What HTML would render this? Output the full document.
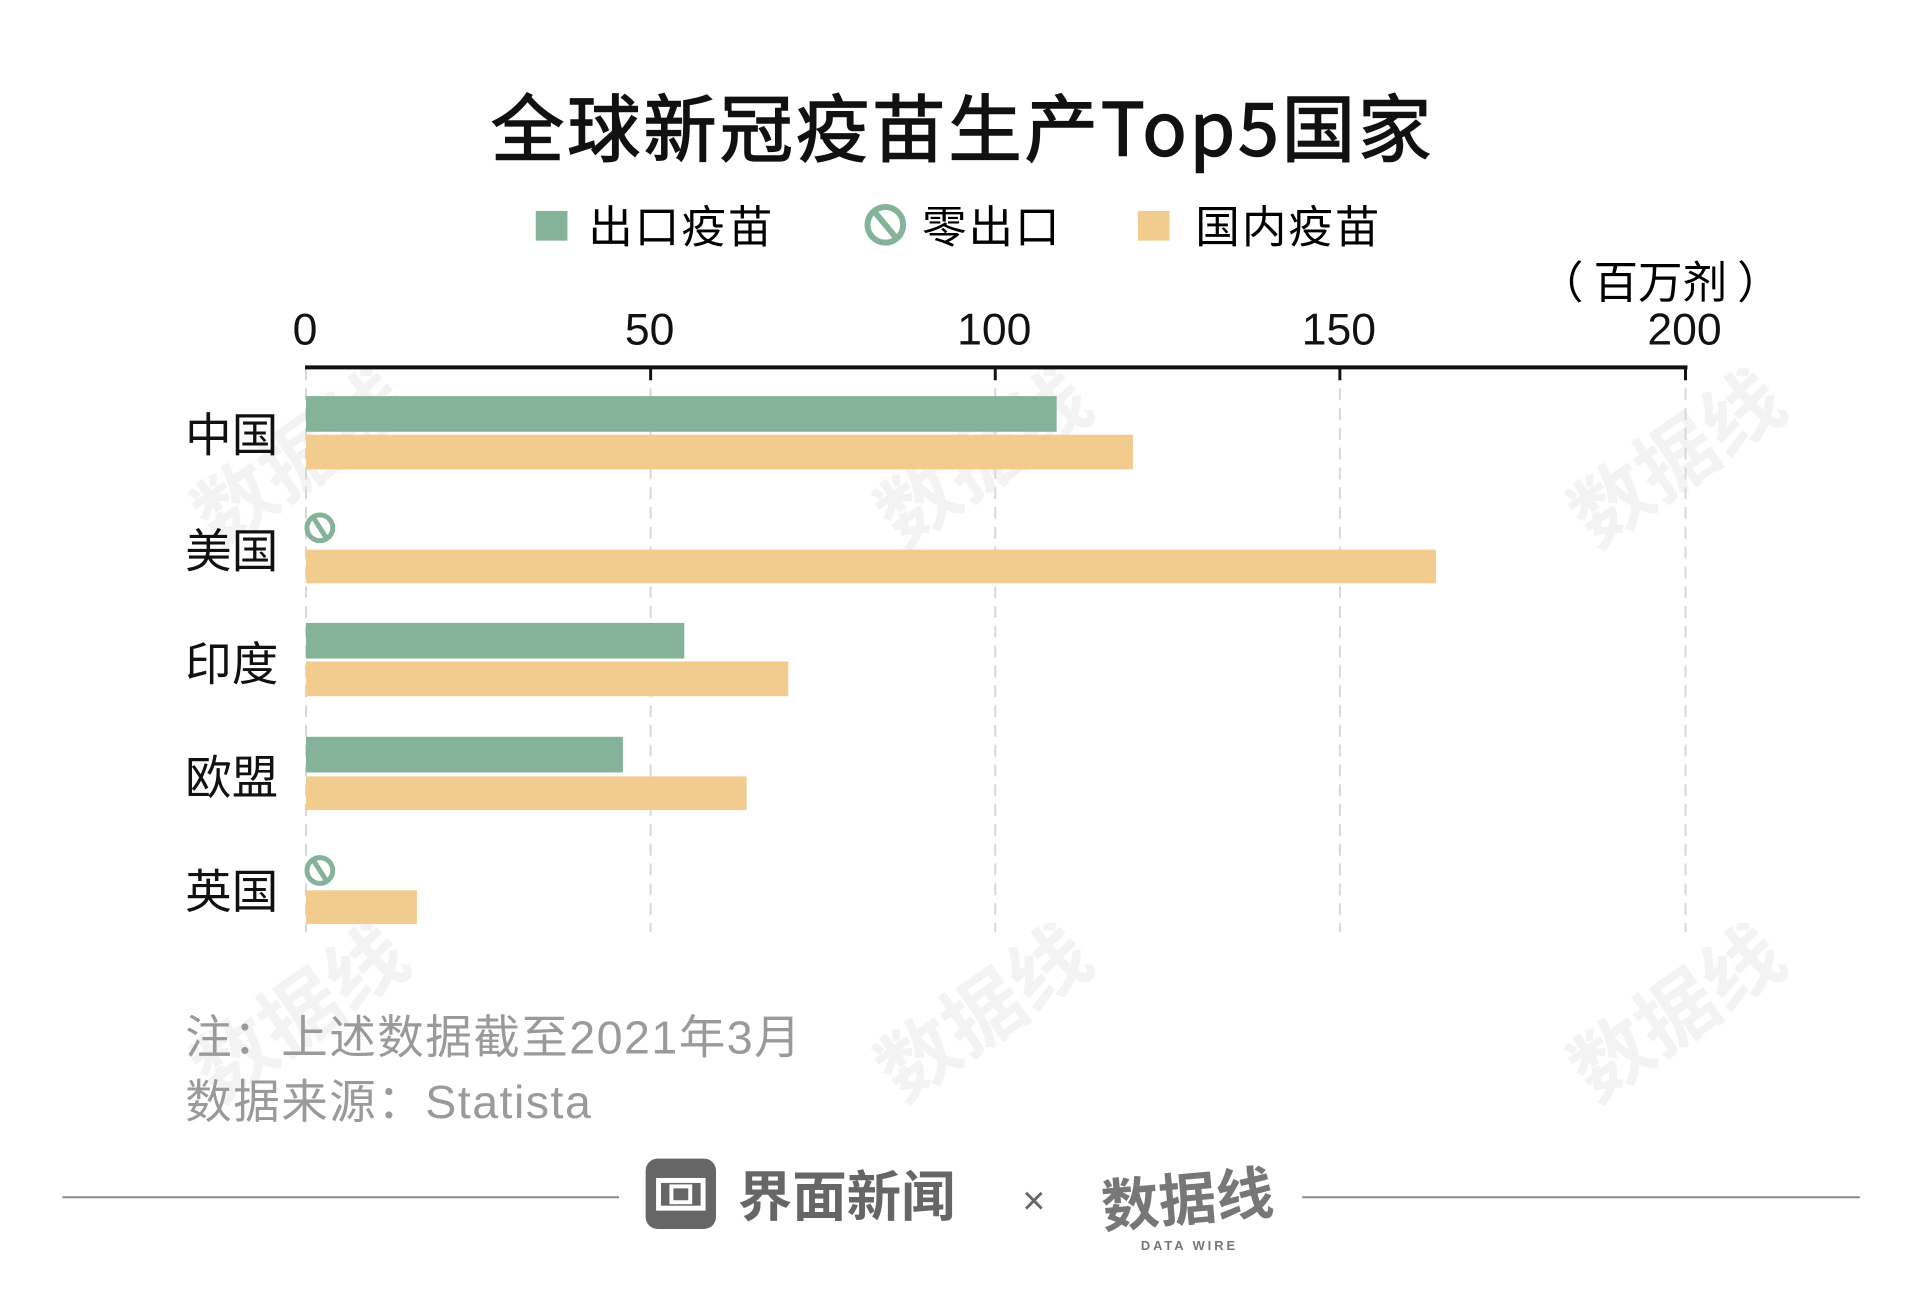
<!DOCTYPE html>
<html><head><meta charset="utf-8"><style>
body{margin:0;width:1921px;height:1299px;background:#fff;position:relative;overflow:hidden;font-family:"Liberation Sans","Noto Sans CJK SC",sans-serif;}
#w{position:absolute;left:0;top:0;width:1940px;height:1312px;transform:scale(0.9903);transform-origin:0 0;}
.a{position:absolute;white-space:nowrap;}
.wm{position:absolute;color:#f3f3f3;font-weight:bold;font-size:80px;transform:rotate(-35deg);font-family:"Noto Sans CJK SC",sans-serif;}
</style></head><body><div id="w">
<div class="wm" style="left:180px;top:400px">数据线</div>
<div class="wm" style="left:870px;top:400px">数据线</div>
<div class="wm" style="left:1570px;top:400px">数据线</div>
<div class="wm" style="left:180px;top:960px">数据线</div>
<div class="wm" style="left:870px;top:960px">数据线</div>
<div class="wm" style="left:1570px;top:960px">数据线</div>

<div class="a" style="left:0;width:1944px;text-align:center;top:72px;font-size:74px;font-weight:400;letter-spacing:3px;-webkit-text-stroke:1.5px #111;color:#111;font-family:'Noto Sans CJK SC',sans-serif;">全球新冠疫苗生产Top5国家</div>

<div class="a" style="left:541px;top:213px;width:32px;height:30px;background:#84b39a"></div>
<div class="a" style="left:594px;top:198px;font-size:45px;line-height:56px;letter-spacing:2px;font-family:'Noto Sans CJK SC',sans-serif;">出口疫苗</div>
<svg class="a" style="left:872px;top:205px" width="44" height="44"><circle cx="22" cy="22" r="18" fill="none" stroke="#84b39a" stroke-width="6"/><line x1="12" y1="10" x2="32" y2="34" stroke="#84b39a" stroke-width="6"/></svg>
<div class="a" style="left:931px;top:198px;font-size:45px;line-height:56px;letter-spacing:2px;font-family:'Noto Sans CJK SC',sans-serif;">零出口</div>
<div class="a" style="left:1149px;top:213px;width:32px;height:30px;background:#f2cb8e"></div>
<div class="a" style="left:1207px;top:198px;font-size:45px;line-height:56px;letter-spacing:2px;font-family:'Noto Sans CJK SC',sans-serif;">国内疫苗</div>
<div class="a" style="left:1554px;top:254px;font-size:45px;line-height:56px;font-family:'Noto Sans CJK SC',sans-serif;">（ 百万剂 ）</div>

<svg class="a" style="left:0;top:0" width="1940" height="1312">
<g stroke="#d8d8d8" stroke-width="2" stroke-dasharray="12,8">
<line x1="309" y1="372" x2="309" y2="941"/><line x1="657" y1="372" x2="657" y2="941"/><line x1="1005" y1="372" x2="1005" y2="941"/><line x1="1353" y1="372" x2="1353" y2="941"/><line x1="1702" y1="372" x2="1702" y2="941"/>
</g>
<line x1="308" y1="371" x2="1704" y2="371" stroke="#111" stroke-width="4"/>
<g stroke="#111" stroke-width="3"><line x1="657" y1="371" x2="657" y2="384"/><line x1="1005" y1="371" x2="1005" y2="384"/><line x1="1353" y1="371" x2="1353" y2="384"/><line x1="1702" y1="371" x2="1702" y2="384"/></g>
<rect x="309" y="400" width="758" height="36" fill="#84b39a"/>
<rect x="309" y="439" width="835" height="35" fill="#f2cb8e"/>
<rect x="309" y="555" width="1141" height="34" fill="#f2cb8e"/>
<rect x="309" y="629" width="382" height="36" fill="#84b39a"/>
<rect x="309" y="668" width="487" height="35" fill="#f2cb8e"/>
<rect x="309" y="744" width="320" height="36" fill="#84b39a"/>
<rect x="309" y="784" width="445" height="34" fill="#f2cb8e"/>
<rect x="309" y="899" width="112" height="34" fill="#f2cb8e"/>
<g fill="none" stroke="#84b39a" stroke-width="5"><circle cx="323" cy="533" r="13"/><line x1="316" y1="522" x2="330" y2="544"/><circle cx="323" cy="879" r="13"/><line x1="316" y1="868" x2="330" y2="890"/></g>
<g font-size="45" fill="#111" text-anchor="middle" font-family="Liberation Sans,sans-serif"><text x="308" y="348">0</text><text x="656" y="348">50</text><text x="1004" y="348">100</text><text x="1352" y="348">150</text><text x="1701" y="348">200</text></g>
<g font-size="47" fill="#111" font-family="Noto Sans CJK SC,sans-serif"><text x="187" y="456">中国</text><text x="187" y="573">美国</text><text x="187" y="687">印度</text><text x="187" y="802">欧盟</text><text x="187" y="917">英国</text></g>
<g font-size="47" fill="#9a9a9a" letter-spacing="1.5" font-family="Liberation Sans,Noto Sans CJK SC,sans-serif"><text x="187" y="1064">注：上述数据截至2021年3月</text><text x="187" y="1129">数据来源：Statista</text></g>
<line x1="63" y1="1209" x2="625" y2="1209" stroke="#888" stroke-width="2"/>
<line x1="1315" y1="1209" x2="1878" y2="1209" stroke="#888" stroke-width="2"/>
<rect x="652" y="1170" width="71" height="71" rx="12" fill="#666"/>
<rect x="665" y="1192" width="45" height="28" fill="none" stroke="#fff" stroke-width="5"/>
<rect x="678" y="1198" width="19" height="16" fill="none" stroke="#fff" stroke-width="4"/>
<text x="745" y="1228" font-size="55" font-weight="bold" fill="#666" font-family="Noto Sans CJK SC,sans-serif">界面新闻</text>
<text x="1044" y="1226" font-size="40" fill="#666" text-anchor="middle" font-family="Liberation Sans,sans-serif">×</text>
<text x="1112" y="1232" font-size="58" font-weight="bold" fill="#777" font-family="Noto Sans CJK SC,sans-serif" transform="rotate(-5 1200 1210)">数据线</text>
<text x="1152" y="1262" font-size="13" font-weight="bold" fill="#777" letter-spacing="3" font-family="Liberation Sans,sans-serif">DATA WIRE</text>
</svg>
</div></body></html>
